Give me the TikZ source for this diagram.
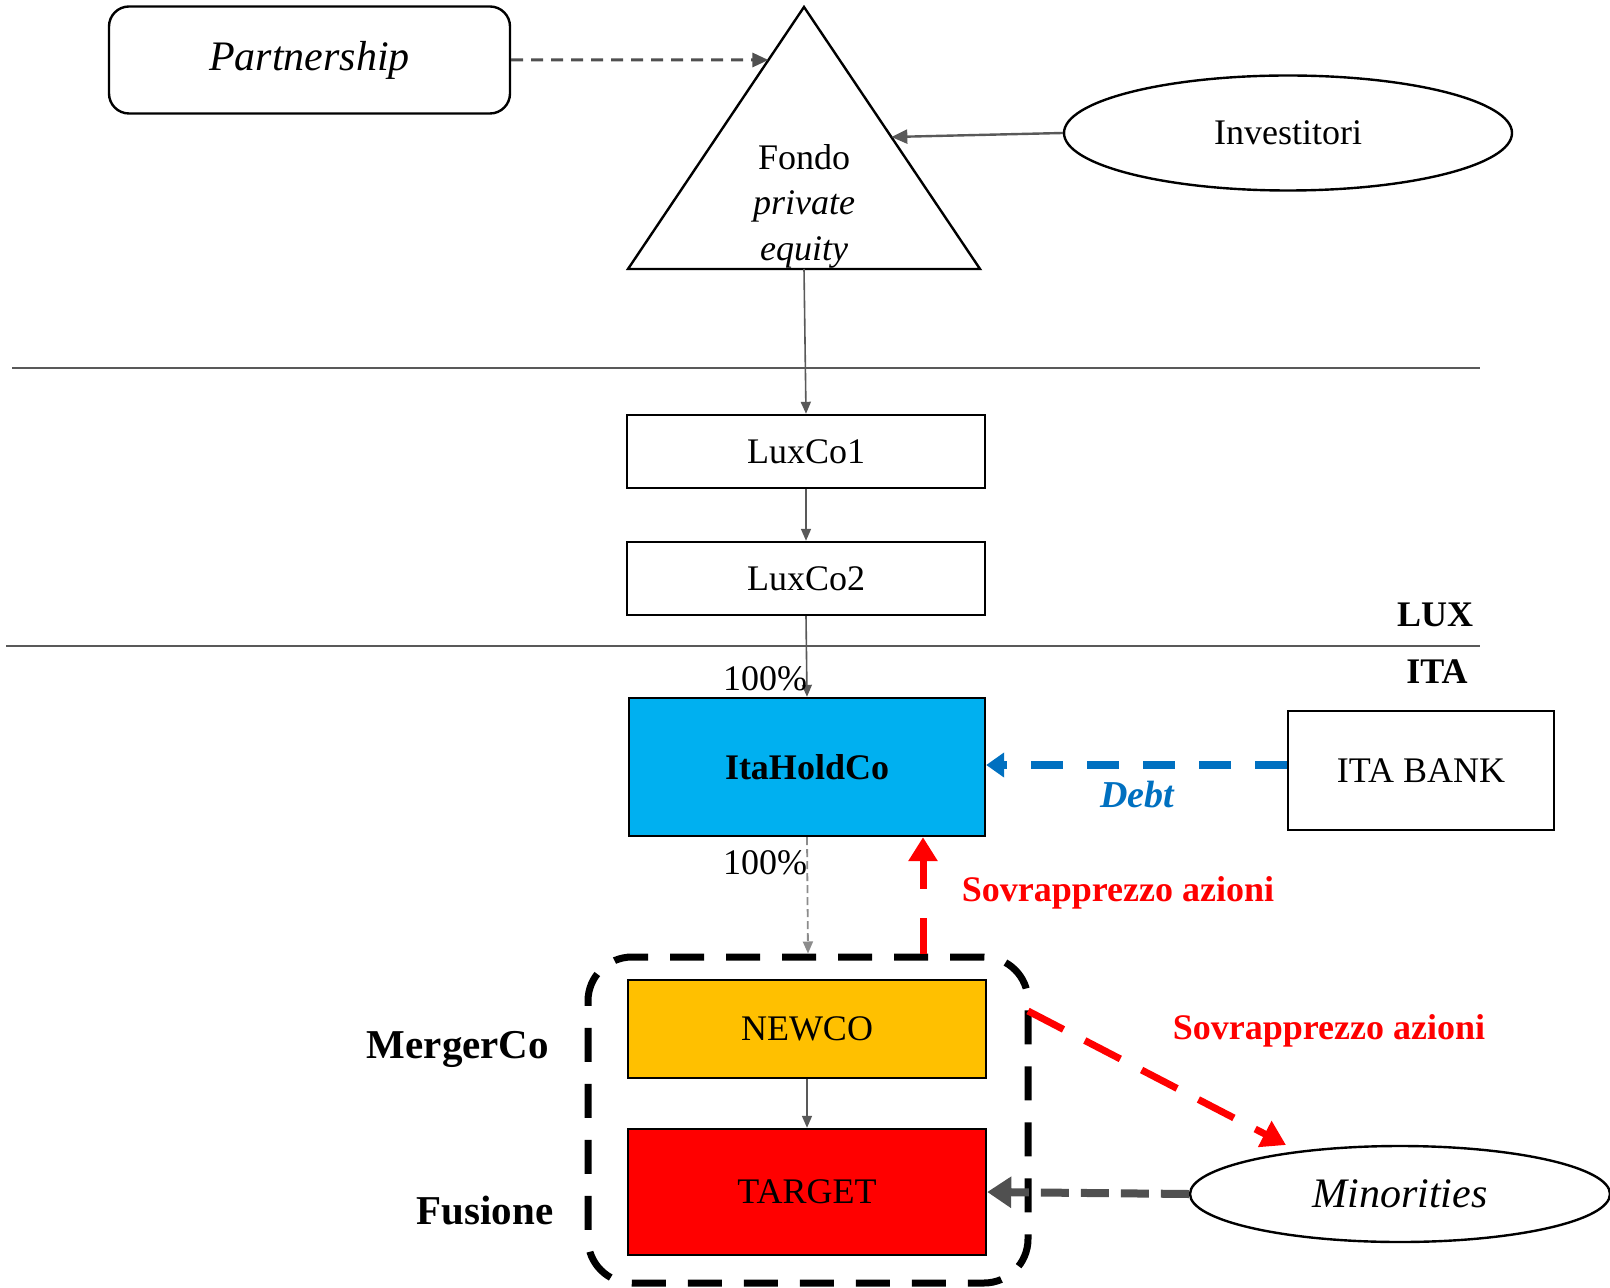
\documentclass[tikz,border=0pt]{standalone}
\usepackage{fontspec}
\setmainfont{Liberation Serif}
\usetikzlibrary{arrows.meta,shapes.geometric,calc}
\definecolor{cyanbox}{HTML}{00B0F0}
\definecolor{orangebox}{HTML}{FFC000}
\definecolor{debtblue}{HTML}{0070C0}
\definecolor{linegray}{HTML}{595959}
\definecolor{fatgray}{HTML}{505050}
\definecolor{lightgray2}{HTML}{8C8C8C}
\definecolor{redc}{HTML}{FF0000}
\begin{document}
\begin{tikzpicture}[x=0.5pt,y=-0.5pt,
  every node/.style={font=\fontsize{18}{21}\selectfont},
  box/.style={draw=black,line width=1.2pt,minimum width=179pt,minimum height=36.5pt,inner sep=0pt},
  conn/.style={draw=linegray,line width=0.8pt,-{Triangle[length=6pt,width=5pt]}},
  sepline/.style={draw=linegray,line width=0.7pt},
  bold20/.style={font=\fontsize{20.5}{24}\selectfont\bfseries},
  redlabel/.style={font=\fontsize{18}{21}\selectfont\bfseries,text=redc},
  redarr/.style={draw=redc,line width=3.5pt,-{Triangle[length=12pt,width=14pt]}},
]
\useasboundingbox (0,0) rectangle (1610,1288);

% Partnership
\node[draw=black,line width=1.2pt,rounded corners=10pt,minimum width=200.5pt,minimum height=53.5pt,inner sep=0pt,
      font=\fontsize{21}{24}\selectfont\itshape] (partner) at (309.5,60) {Partnership};

% Fondo triangle
\coordinate (apex) at (804,7);
\coordinate (bl) at (628,269);
\coordinate (br) at (980,269);
\draw[line width=1.2pt,line join=miter] (apex) -- (br) -- (bl) -- cycle;
\node[align=center,font=\fontsize{18}{22.75}\selectfont] (fondo) at (804,206) {Fondo\\\textit{private}\\\textit{equity}};
\coordinate (triL) at ($(apex)!0.2023!(bl)$);
\coordinate (triR) at ($(apex)!0.4962!(br)$);
\coordinate (triB) at (804,269);

% Investitori
\node[draw=black,ellipse,line width=1.2pt,minimum width=224pt,minimum height=57.5pt,inner sep=0pt] (inv) at (1288,133) {Investitori};

\draw[draw=fatgray,line width=1.5pt,dash pattern=on 6pt off 4pt,-{Triangle[length=8pt,width=7pt]}] (partner.east) -- (triL);
\draw[draw=linegray,line width=1.2pt,-{Triangle[length=8pt,width=7pt]}] (inv.west) -- (triR);

% separator lines
\draw[sepline] (12,368) -- (1480,368);
\draw[sepline] (6,646) -- (1480,646);
\node[font=\fontsize{18}{21}\selectfont\bfseries] (luxlbl) at (1435,615) {LUX};
\node[font=\fontsize{18}{21}\selectfont\bfseries] (italbl) at (1437,672) {ITA};

% Lux companies
\node[box] (lux1) at (806,451.5) {LuxCo1};
\node[box] (lux2) at (806,578.5) {LuxCo2};
\node[box,fill=cyanbox,minimum height=69pt,minimum width=178pt,font=\fontsize{18}{21}\selectfont\bfseries] (ita) at (807,767) {ItaHoldCo};

\draw[conn] (triB) -- (lux1.north);
\draw[conn] (lux1.south) -- (lux2.north);
\draw[conn] (lux2.south) -- (ita.north);

\node (pct1) at (765,679) {100\%};
\node (pct2) at (765,863) {100\%};

% ITA BANK and debt
\node[box,minimum width=133pt,minimum height=59.5pt] (bank) at (1421,770.5) {ITA BANK};
\coordinate (debty) at (0,765);
\draw[draw=debtblue,line width=3.75pt,dash pattern=on 16pt off 12pt,-{Triangle[length=9pt,width=12pt]}] (bank.west |- debty) -- (ita.east |- debty);
\node[font=\fontsize{19}{22}\selectfont\bfseries\itshape,text=debtblue] (debt) at (1137,795) {Debt};

% MergerCo dashed container
\node[draw=black,line width=3.5pt,dash pattern=on 17pt off 11pt,rounded corners=22pt,minimum width=220pt,minimum height=163pt,inner sep=0pt] (merger) at (808,1120) {};
\node[box,fill=orangebox,minimum height=49pt] (newco) at (807,1029) {NEWCO};
\node[box,fill=redc,minimum height=63pt] (target) at (807,1192) {TARGET};
\draw[conn] (newco.south) -- (target.north);

\node[bold20] (mergerlbl) at (458,1049) {MergerCo};
\node[bold20] (fusionelbl) at (485,1211) {Fusione};

% ItaHoldCo -> merger (light gray dashed)
\draw[draw=lightgray2,line width=0.9pt,dash pattern=on 4pt off 2pt,-{Triangle[length=6pt,width=5pt]}] (ita.south) -- (merger.north);

% red arrow up
\coordinate (rx) at (923,0);
\draw[redarr,dash pattern=on 18pt off 14.5pt] (merger.north -| rx) -- (ita.south -| rx);
\node[redlabel] (sov1) at (1118,893) {Sovrapprezzo azioni};

% Minorities
\node[draw=black,ellipse,line width=1.2pt,minimum width=210pt,minimum height=48pt,inner sep=0pt,
      font=\fontsize{21}{24}\selectfont\itshape] (minor) at (1400,1194) {Minorities};
\coordinate (rs) at (1028,1011);
\coordinate (re) at (1286,1145);
\draw[redarr,dash pattern=on 20pt off 12pt] (rs) -- (re);
\node[redlabel] (sov2) at (1329,1031) {Sovrapprezzo azioni};

\draw[draw=fatgray,line width=4pt,dash pattern=on 14pt off 6pt,-{Triangle[length=12pt,width=15pt]}] (minor.west) -- (target.east);
\end{tikzpicture}
\end{document}
